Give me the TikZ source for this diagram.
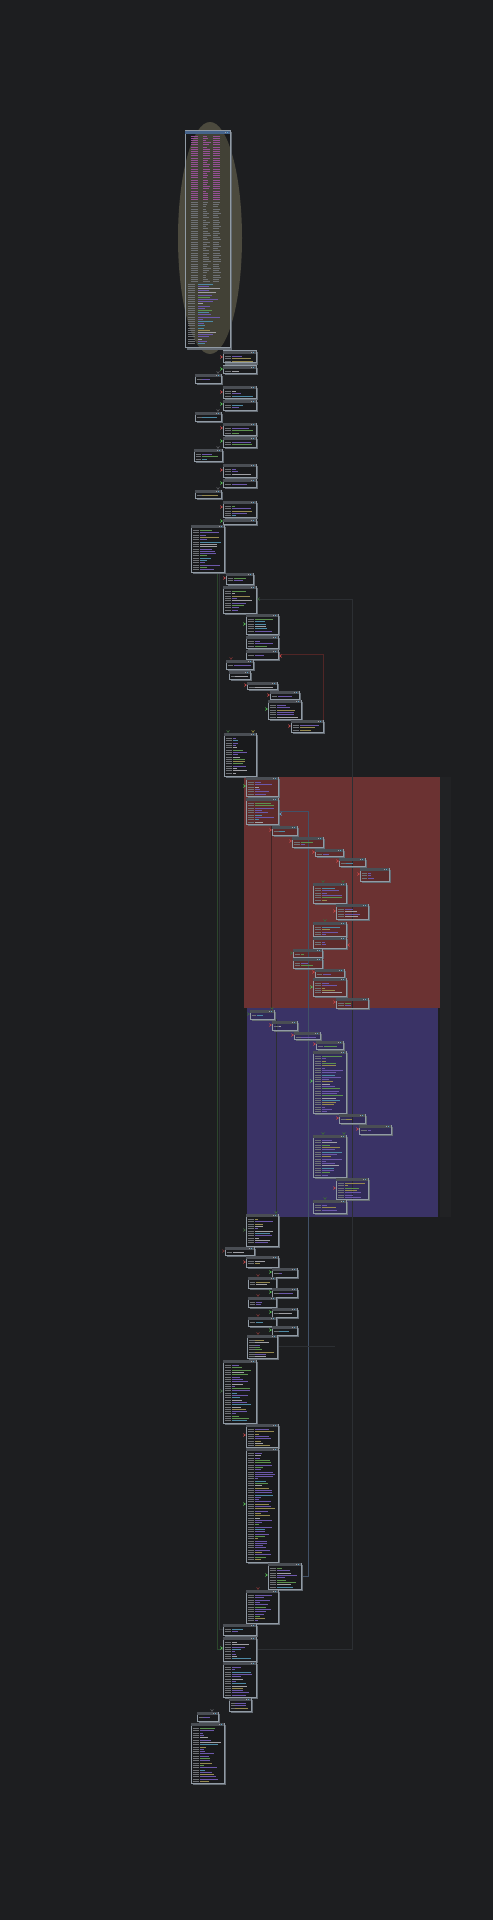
\documentclass[tikz,border=0pt]{standalone}
\usetikzlibrary{calc}
\definecolor{bgc}{RGB}{29,30,32}
\definecolor{ellc}{RGB}{76,74,62}
\definecolor{redreg}{RGB}{107,50,50}
\definecolor{blureg}{RGB}{58,51,102}
\definecolor{sidereg}{RGB}{33,34,36}
\definecolor{bord}{RGB}{145,155,165}
\definecolor{shad}{RGB}{100,107,115}
\definecolor{titlec}{RGB}{74,78,84}
\definecolor{titleb}{RGB}{70,100,140}
\definecolor{tgray}{RGB}{110,113,117}
\definecolor{tpur}{RGB}{108,88,170}
\definecolor{tgrn}{RGB}{92,145,78}
\definecolor{tcyn}{RGB}{78,138,165}
\definecolor{tyel}{RGB}{150,138,80}
\definecolor{twht}{RGB}{160,160,165}
\definecolor{tmag}{RGB}{150,80,150}
\definecolor{mred}{RGB}{195,70,70}
\definecolor{mgrn}{RGB}{80,185,80}
\definecolor{mdred}{RGB}{115,50,50}
\definecolor{mdgrn}{RGB}{60,100,60}
\definecolor{mcyn}{RGB}{90,165,205}
\definecolor{myel}{RGB}{140,130,60}
\definecolor{egrn}{RGB}{44,70,44}
\definecolor{egry}{RGB}{44,47,51}
\definecolor{eblu}{RGB}{66,82,104}
\definecolor{ered}{RGB}{80,38,38}
\pgfdeclarelayer{bglayer}
\pgfdeclarelayer{edgelayer}
\pgfsetlayers{bglayer,edgelayer,main}
\tikzset{
  blkbox/.style={draw=bord, line width=0.5pt, fill=black, fill opacity=0.12, inner sep=0pt, outer sep=0pt, anchor=north west},
  tline/.style={line width=0.45pt},
  edgeln/.style={line width=0.5pt},
}
\pgfmathdeclarerandomlist{tcols}{{tpur}{tpur}{tpur}{tgrn}{tcyn}{tyel}{twht}}
\newcommand\blkframe[6]{%
  \draw[shad, line width=0.8pt] (#2+1.5,#5+1) -- (#4+1,#5+1) -- (#4+1,#3+1.5);
  \node[blkbox, minimum width={(#4-#2)*0.5pt}, minimum height={(#5-#3)*0.5pt}] (#1) at (#2,#3) {};
  \fill[#6] (#2+0.3,#3+0.3) rectangle (#4-0.3,#3+2.6);
  \fill[twht] (#4-5,#3+0.8) rectangle (#4-3.8,#3+2.1);
  \fill[mcyn] (#4-2.8,#3+0.8) rectangle (#4-1.6,#3+2.1);
}
\newcommand\blklines[4]{%
  \pgfmathsetmacro\bw{#3-#1}%
  \pgfmathtruncatemacro\nl{(#4-#2-4.5)/2.3}%
  \ifnum\nl>0
  \foreach \i in {1,...,\nl}{%
    \pgfmathsetmacro\yy{#2+3.3+\i*2.3}%
    \pgfmathsetmacro\la{#1+1.5+0.2*\bw}%
    \pgfmathsetmacro\mb{#1+0.28*\bw}%
    \pgfmathsetmacro\me{\mb+(0.08+0.55*rnd)*\bw}%
    \pgfmathrandomitem\cc{tcols}%
    \draw[tline,tgray] (#1+1.5,\yy) -- (\la,\yy);
    \draw[tline,color=\cc] (\mb,\yy) -- (\me,\yy);
  }%
  \fi
}
\newcommand\blk[5]{\blkframe{#1}{#2}{#3}{#4}{#5}{titlec}\blklines{#2}{#3}{#4}{#5}}
\newcommand\mkR[3]{\fill[#1] (#2-3,#3-1.8) -- (#2,#3) -- (#2-3,#3+1.8) -- (#2-1.8,#3) -- cycle;}
\newcommand\mkL[3]{\fill[#1] (#2+3,#3-1.8) -- (#2,#3) -- (#2+3,#3+1.8) -- (#2+1.8,#3) -- cycle;}
\newcommand\mkD[3]{\fill[#1] (#2-1.8,#3-3) -- (#2,#3) -- (#2+1.8,#3-3) -- (#2,#3-1.8) -- cycle;}
\begin{document}
\begin{tikzpicture}[x=0.5pt,y=-0.5pt]
\pgfmathsetseed{42}
\useasboundingbox (0,0) rectangle (493,1920);
\begin{pgfonlayer}{bglayer}
  \fill[bgc] (0,0) rectangle (493,1920);
  \fill[sidereg] (440,777) rectangle (451,1217);
  \fill[redreg] (244,777) rectangle (440,1008);
  \fill[blureg] (247,1008) rectangle (438,1217);
  \fill[ellc] (210,238) ellipse [x radius=32, y radius=116];
\end{pgfonlayer}

% ---- top block
\blkframe{top}{185}{131}{230}{348}{titleb}
\foreach \i in {0,...,29}{%
  \pgfmathsetmacro\yy{136+\i*2.2}\pgfmathsetmacro\e{206+5*rnd}%
  \draw[tline,tmag] (190.5,\yy) -- (198,\yy);
  \draw[tline,tmag] (203,\yy) -- (\e,\yy);
  \draw[tline,tmag] (213,\yy) -- (220,\yy);}
\foreach \i in {0,...,36}{%
  \pgfmathsetmacro\yy{202.5+\i*2.2}\pgfmathsetmacro\e{206+5*rnd}\pgfmathsetmacro\f{218+3*rnd}%
  \draw[tline,tgray] (190.5,\yy) -- (198,\yy);
  \draw[tline,tgray] (203,\yy) -- (\e,\yy);
  \draw[tline,tgray] (213,\yy) -- (\f,\yy);}
\foreach \i in {0,...,27}{%
  \pgfmathsetmacro\yy{284+\i*2.2}\pgfmathsetmacro\e{202+18*rnd}\pgfmathrandomitem\cc{tcols}%
  \draw[tline,tgray] (187.5,\yy) -- (195,\yy);
  \draw[tline,color=\cc] (198,\yy) -- (\e,\yy);}

% ---- blocks
\blk{a1}{223}{351}{256}{363}
\blk{a2}{223}{366}{256}{373}
\blk{a3}{195}{374}{221}{383}
\blk{a4}{223}{386}{256}{398}
\blk{a5}{223}{400}{256}{410}
\blk{a6}{195}{412}{221}{421}
\blk{a7}{223}{423}{256}{435}
\blk{a8}{223}{437}{256}{447}
\blk{a9}{194}{449}{222}{461}
\blk{a10}{223}{464}{256}{477}
\blk{a11}{223}{479}{256}{487}
\blk{a12}{195}{490}{221}{498}
\blk{a13}{223}{501}{256}{517}
\blk{a14}{223}{519}{256}{524}
\blk{l5}{191}{525}{224}{572}
\blk{m1}{226}{573}{253}{584}
\blk{m2}{223}{586}{256}{613}
\blk{m3}{246}{614}{278}{634}
\blk{m4}{246}{636}{278}{648}
\blk{m6}{246}{650}{278}{659}
\blk{m7}{226}{660}{253}{669}
\blk{m8}{229}{671}{250}{679}
\blk{m9}{247}{682}{277}{689}
\blk{m10}{270}{691}{299}{699}
\blk{m11}{268}{700}{301}{719}
\blk{m12}{291}{720}{323}{732}
\blk{m13}{224}{733}{256}{776}
\blk{r1}{246}{777}{278}{796}
\blk{r2}{246}{798}{278}{824}
\blk{r3}{272}{826}{297}{835}
\blk{r4}{292}{837}{323}{847}
\blk{r5}{315}{849}{343}{856}
\blk{r6}{339}{858}{365}{866}
\blk{r7}{360}{868}{389}{881}
\blk{r8}{313}{883}{346}{903}
\blk{r9}{336}{904}{368}{919}
\blk{r10}{313}{922}{346}{936}
\blk{r11}{313}{937}{346}{948}
\blk{r12}{293}{949}{322}{957}
\blk{r13}{293}{958}{322}{968}
\blk{r14}{315}{969}{344}{977}
\blk{r15}{313}{978}{346}{996}
\blk{r16}{336}{998}{368}{1008}
\blk{q1}{250}{1010}{274}{1019}
\blk{q2}{272}{1021}{297}{1030}
\blk{q3}{294}{1032}{320}{1039}
\blk{q4}{316}{1041}{343}{1049}
\blk{q5}{313}{1051}{346}{1113}
\blk{q6}{339}{1114}{365}{1123}
\blk{q7}{359}{1125}{391}{1134}
\blk{q8}{313}{1135}{346}{1177}
\blk{q9}{336}{1178}{368}{1199}
\blk{q10}{313}{1200}{346}{1213}
\blk{s1}{246}{1214}{278}{1246}
\blk{s2}{225}{1247}{254}{1255}
\blk{s3}{246}{1256}{278}{1267}
\blk{s4}{272}{1268}{297}{1277}
\blk{s5}{248}{1277}{276}{1288}
\blk{s6}{272}{1288}{297}{1297}
\blk{s7}{248}{1297}{276}{1307}
\blk{s8}{272}{1308}{297}{1317}
\blk{s9}{248}{1317}{276}{1326}
\blk{s10}{272}{1326}{297}{1335}
\blk{s11}{247}{1335}{277}{1358}
\blk{p1}{223}{1360}{256}{1423}
\blk{p2}{246}{1424}{278}{1447}
\blk{p3}{246}{1448}{278}{1562}
\blk{p4}{268}{1563}{301}{1589}
\blk{p5}{246}{1590}{278}{1623}
\blk{c1}{223}{1624}{256}{1635}
\blk{c2}{223}{1637}{256}{1661}
\blk{c3}{223}{1662}{256}{1697}
\blk{c4}{229}{1698}{251}{1711}
\blk{c5}{197}{1712}{218}{1721}
\blk{c6}{191}{1723}{224}{1783}

% ---- connectors
\coordinate (k217) at (217,0);
\coordinate (k219) at (219.5,0);
\coordinate (k352) at (352,0);
\coordinate (k308) at (308,0);
\coordinate (k271) at (271,0);
\coordinate (k276) at (276,0);
\coordinate (k335) at (335,0);
\begin{pgfonlayer}{edgelayer}
  \draw[edgeln,egrn] (l5.south -| k217) -- (c2.west -| k217) -- (c2.west);
  \draw[edgeln,egry] (l5.south -| k219) -- (c1.west -| k219) -- (c1.west);
  \draw[edgeln,egry] (m2.east) -- (m2.east -| k352) -- (c2.east -| k352) -- (c2.east);
  \draw[edgeln,ered] (m6.east) -| (m12.north east);
  \draw[edgeln,eblu] (r2.east) -- (r2.east -| k308) -- (p4.east -| k308) -- (p4.east);
  \draw[edgeln,ered!70!bgc] (r2.south -| k271) -- (q1.north -| k271);
  \draw[edgeln,egry] (q1.south -| k276) -- (s1.north -| k276);
  \draw[edgeln,egry] (s11.east) -- (s11.east -| k335);
\end{pgfonlayer}

% ---- arrow markers
\mkR{mred}{223}{357}\mkR{mgrn}{223}{369}
\mkR{mred}{223}{392}\mkR{mgrn}{223}{404}
\mkR{mred}{223}{428}\mkR{mgrn}{223}{441}
\mkR{mred}{223}{470}\mkR{mgrn}{223}{483}
\mkR{mred}{223}{507}\mkR{mgrn}{223}{521}
\mkD{egry!80!white}{218}{374}\mkD{egry!80!white}{218}{412}
\mkD{egry!80!white}{218}{449}\mkD{egry!80!white}{218}{490}
\mkR{mred}{226}{578}\mkL{mdgrn}{257}{599}
\mkR{mgrn}{246}{624}\mkL{mred}{279}{656}\mkD{mdred}{231}{660}
\mkR{mred}{247}{685}\mkR{mred}{270}{695}\mkR{mgrn}{268}{709}
\mkR{mred}{291}{726}\mkD{mdgrn}{228}{733}\mkD{myel}{253}{733}
\mkR{mgrn}{246}{786}\mkL{mcyn}{279}{814}
\mkR{mred}{272}{830}\mkR{mred}{292}{841}\mkR{mred}{315}{852}
\mkR{mred}{339}{861}\mkR{mred}{360}{874}
\mkD{mdgrn}{323}{883}\mkD{mdgrn}{343}{883}
\mkR{mred}{336}{911}\mkD{mdgrn}{325}{922}
\mkL{mred}{347}{945}\mkR{mdgrn}{293}{953}
\mkR{mred}{315}{972}\mkR{mgrn}{313}{987}\mkR{mred}{336}{1002}
\mkD{mdgrn}{272}{1010}\mkR{mdgrn}{250}{1014}
\mkR{mred}{272}{1025}\mkR{mred}{294}{1035}\mkR{mred}{316}{1044}
\mkR{mgrn}{313}{1081}\mkR{mred}{339}{1118}\mkR{mred}{359}{1129}
\mkD{mdgrn}{323}{1135}\mkD{mdgrn}{344}{1135}
\mkR{mred}{336}{1188}\mkD{mdgrn}{325}{1200}\mkD{mdgrn}{276}{1214}
\mkR{mdgrn}{246}{1230}\mkR{mdred}{225}{1251}\mkR{mred}{246}{1262}
\mkR{mgrn}{272}{1272}\mkD{mdred}{258}{1277}
\mkR{mgrn}{272}{1292}\mkD{mdred}{258}{1297}
\mkR{mgrn}{272}{1312}\mkD{mdred}{258}{1317}
\mkR{mgrn}{272}{1330}\mkD{mdred}{258}{1335}
\mkR{mdgrn}{223}{1391}
\mkR{mred}{246}{1435}\mkR{mgrn}{246}{1504}
\mkR{mgrn}{268}{1575}\mkD{mdred}{258}{1590}
\mkR{mgrn}{223}{1648}
\mkD{egry!80!white}{212}{1712}
\end{tikzpicture}
\end{document}
